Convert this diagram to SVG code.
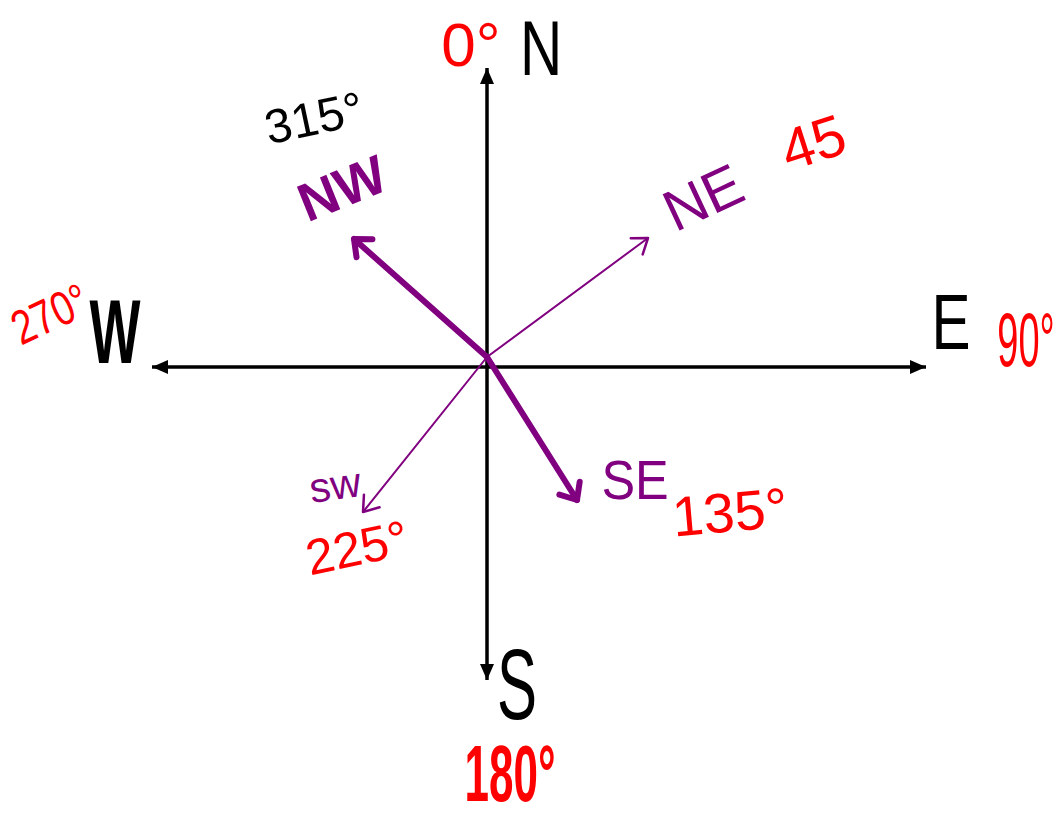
<svg xmlns="http://www.w3.org/2000/svg" width="1061" height="821" viewBox="0 0 1061 821">
<style>
.t{font-family:"Liberation Sans",Arial,sans-serif;text-anchor:middle;dominant-baseline:central}
.blk{fill:#000}
.red{fill:#ff0000}
.pur{fill:#800080}
.axis{stroke:#000;stroke-width:3.5;fill:none}
.thick{stroke:#800080;stroke-width:6;fill:none;stroke-linecap:round}
.thin{stroke:#800080;stroke-width:2;fill:none;stroke-linecap:round}
</style>
<defs>
<marker id="tri" markerUnits="userSpaceOnUse" markerWidth="20" markerHeight="16" refX="16" refY="8" orient="auto-start-reverse">
<path d="M0,1 L16,8 L0,15 Z" fill="#000"/>
</marker>
<marker id="chevThick" markerUnits="userSpaceOnUse" markerWidth="40" markerHeight="40" refX="20" refY="20" orient="auto">
<path d="M6,8 L20,20 L6,32" fill="none" stroke="#800080" stroke-width="6" stroke-linecap="round" stroke-linejoin="round"/>
</marker>
<marker id="chevThin" markerUnits="userSpaceOnUse" markerWidth="40" markerHeight="40" refX="20" refY="20" orient="auto">
<path d="M6,10 L20,20 L6,30" fill="none" stroke="#800080" stroke-width="2.5" stroke-linecap="round" stroke-linejoin="round"/>
</marker>
</defs>
<g id="connectors">
<line class="axis" x1="487" y1="680" x2="487" y2="68" marker-start="url(#tri)" marker-end="url(#tri)"/>
<line class="axis" x1="152" y1="367" x2="926" y2="367" marker-start="url(#tri)" marker-end="url(#tri)"/>
<line class="thick" x1="487" y1="357" x2="354" y2="239" marker-end="url(#chevThick)"/>
<line class="thick" x1="487" y1="357" x2="577" y2="500" marker-end="url(#chevThick)"/>
<line class="thin" x1="487" y1="357" x2="648" y2="238" marker-end="url(#chevThin)"/>
<line class="thin" x1="487" y1="357" x2="363" y2="512" marker-end="url(#chevThin)"/>
</g>
<g id="north">
<text class="t red" x="471" y="44" font-size="62">0°</text>
<text class="t blk" transform="translate(541,48) scale(0.75,1)" font-size="78">N</text>
</g>
<g id="northwest">
<text class="t blk" transform="translate(314,118) rotate(-12)" font-size="48">315°</text>
<text class="t pur" transform="translate(342,188) rotate(-22)" font-size="54" font-weight="bold">NW</text>
</g>
<g id="northeast">
<text class="t pur" transform="translate(703,197) rotate(-25)" font-size="58">NE</text>
<text class="t red" transform="translate(813,142) rotate(-18)" font-size="58">45</text>
</g>
<g id="west">
<text class="t red" transform="translate(50,314) rotate(-25) scale(0.8,1)" font-size="48">270°</text>
<text class="t blk" transform="translate(115,332) scale(0.6,1)" font-size="90" font-weight="bold">W</text>
</g>
<g id="east">
<text class="t blk" transform="translate(951,322) scale(0.75,1)" font-size="78">E</text>
<text class="t red" transform="translate(1026,340) scale(0.5,1)" font-size="76">90°</text>
</g>
<g id="southeast">
<text class="t pur" transform="translate(635,480) scale(0.9,1)" font-size="56">SE</text>
<text class="t red" transform="translate(730,512) rotate(-5)" font-size="56">135°</text>
</g>
<g id="southwest">
<text class="t pur" transform="translate(335,485) rotate(-8)" font-size="42">sw</text>
<text class="t red" transform="translate(357,548) rotate(-12)" font-size="50">225°</text>
</g>
<g id="south">
<text class="t blk" transform="translate(517,684) scale(0.6,1)" font-size="100">S</text>
<text class="t red" transform="translate(510,774) scale(0.55,1)" font-size="80" font-weight="bold">180°</text>
</g>
</svg>
